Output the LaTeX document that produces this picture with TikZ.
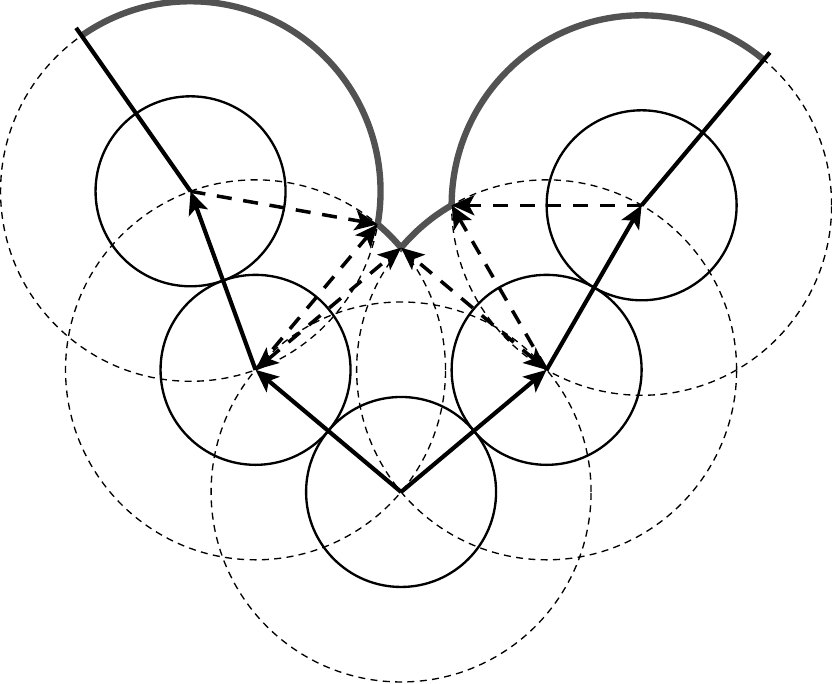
\documentclass[tikz,border=0pt]{standalone}
\usetikzlibrary{calc,arrows.meta}
\tikzset{
  reach/.style={line width=0.4pt, dash pattern=on 2.1pt off 1.6pt},
  link/.style={line width=0.7pt},
  tipa/.style={-{Stealth[length=6.8pt,width=6pt,inset=1.6pt]}},
  tipb/.style={{Stealth[length=6.8pt,width=6pt,inset=1.6pt]}-{Stealth[length=6.8pt,width=6pt,inset=1.6pt]}},
  arm/.style={line width=1.25pt, tipa},
  armline/.style={line width=1.25pt},
  probe/.style={line width=1.05pt, dash pattern=on 4.5pt off 3.5pt, tipa},
  probeboth/.style={line width=1.05pt, dash pattern=on 4.5pt off 3.5pt, tipb},
  bound/.style={line width=1.9pt, draw=black!68}
}
\begin{document}
\begin{tikzpicture}
\useasboundingbox (-4.222,-2.0211) rectangle (4.536,5.1789);
\coordinate (O) at (0,0);
\coordinate (L1) at (140:2);
\coordinate (R1) at (40:2);
\coordinate (L2) at ($(L1)+(110:2)$);
\coordinate (R2) at ($(R1)+(60:2)$);
\coordinate (Li) at ($(L2)+(-10:2)$);
\coordinate (P) at ($(L1)+(40:2)$);
\coordinate (Ri) at ($(R1)+(120:2)$);
\coordinate (Lb) at ($(L2)+(125:2)$);
\coordinate (Le) at ($(L2)+(125:2.1)$);
\coordinate (Re) at ($(R2)+(50:2.1)$);
% reachable circles
\foreach \c in {O,L1,R1,L2,R2} {
  \draw[reach] (\c) circle[radius=2];
}
% link circles
\foreach \c in {O,L1,R1,L2,R2} {
  \draw[link] (\c) circle[radius=1];
}
% boundary
\draw[bound] (Lb) arc[start angle=125, end angle=-10, radius=2]
  arc[start angle=50, end angle=40, radius=2]
  arc[start angle=140, end angle=120, radius=2]
  arc[start angle=180, end angle=50, radius=2];
% arms
\draw[arm] (O) -- (L1);
\draw[arm] (L1) -- (L2);
\draw[armline] (L2) -- (Le);
\draw[arm] (O) -- (R1);
\draw[arm] (R1) -- (R2);
\draw[armline] (R2) -- (Re);
% dashed probes
\draw[probe] (L2) -- (Li);
\draw[probe] (L1) -- (Li);
\draw[probeboth] (L1) -- (P);
\draw[probeboth] (R1) -- (P);
\draw[probe] (R1) -- (Ri);
\draw[probe] (R2) -- (Ri);
\end{tikzpicture}
\end{document}
